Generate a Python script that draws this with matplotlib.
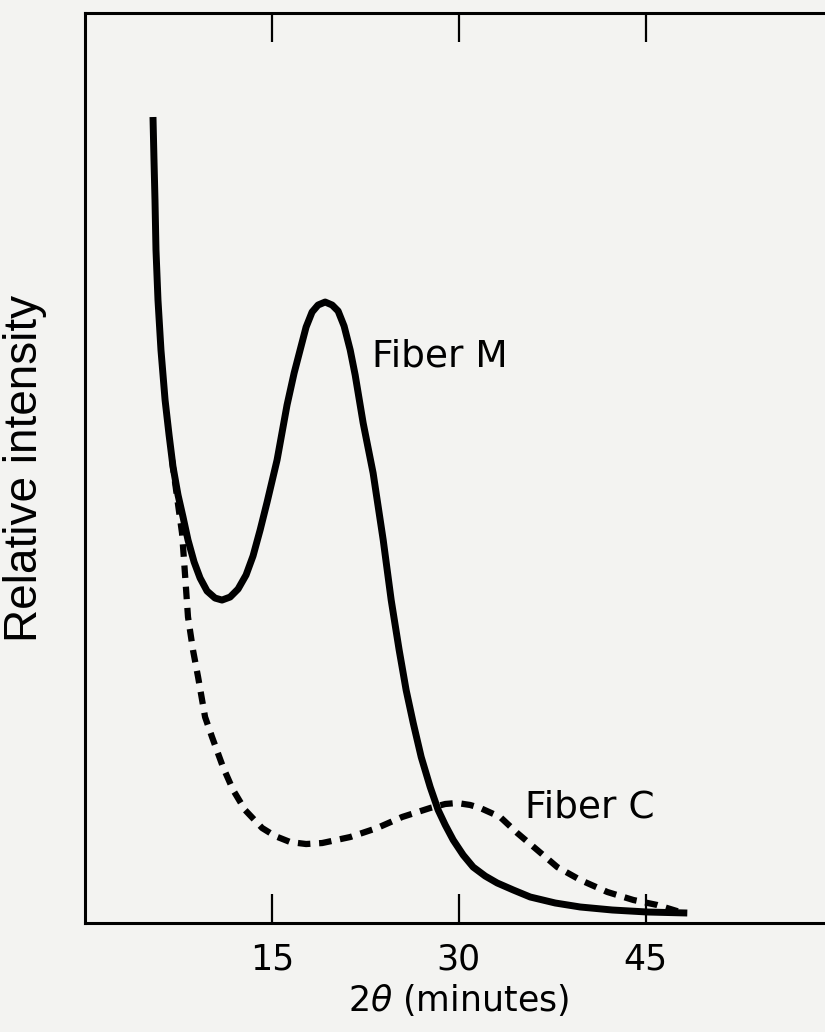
import matplotlib.pyplot as plt

# values (x = 2theta in minutes, y = relative intensity, 0-100)
fiber_m_x = [5.46, 5.54, 5.62, 5.70, 5.86, 6.10, 6.43, 6.75, 7.07, 7.47, 7.87,
             8.27, 8.76, 9.24, 9.80, 10.44, 11.00, 11.65, 12.29, 12.93, 13.49,
             14.06, 14.62, 15.42, 16.22, 16.79, 17.27, 17.75, 18.23, 18.71,
             19.28, 19.84, 20.32, 20.80, 21.29, 21.69, 22.33, 23.13, 23.94,
             24.58, 25.22, 25.78, 26.35, 26.99, 27.71, 28.35, 28.92, 29.56,
             30.36, 31.16, 32.13, 33.09, 34.38, 35.74, 37.75, 39.76, 42.33,
             45.14, 48.35]
fiber_m_y = [88.57, 83.85, 79.45, 73.96, 68.46, 62.97, 57.47, 53.63, 50.11,
             47.03, 44.62, 42.09, 39.67, 37.91, 36.48, 35.71, 35.49, 35.82,
             36.70, 38.24, 40.33, 43.19, 46.26, 50.88, 56.92, 60.44, 62.97,
             65.49, 67.14, 67.91, 68.24, 67.91, 67.25, 65.60, 62.97, 60.22,
             54.95, 49.45, 42.09, 35.49, 30.00, 25.60, 21.98, 18.24, 14.95,
             12.42, 10.77, 9.12, 7.47, 6.15, 5.16, 4.40, 3.63, 2.86, 2.20,
             1.76, 1.43, 1.21, 1.10]

fiber_c_x = [6.99, 7.39, 7.79, 7.95, 8.27, 8.67, 9.08, 9.64, 10.20, 11.08, 11.89,
             12.85, 14.22, 15.26, 16.47, 17.75, 19.04, 21.29, 23.45, 25.46,
             27.71, 28.92, 29.88, 30.92, 31.73, 33.33, 34.70, 36.31, 37.91,
             39.76, 41.93, 44.02, 45.94, 48.03]
fiber_c_y = [50.88, 46.81, 42.86, 39.89, 33.63, 30.00, 27.03, 22.64, 20.44,
             17.14, 14.62, 12.42, 10.44, 9.56, 8.90, 8.68, 8.79, 9.45, 10.44,
             11.65, 12.64, 13.08, 13.19, 12.97, 12.64, 11.65, 9.89, 8.02, 6.15,
             4.73, 3.41, 2.53, 1.98, 1.10]

xticks = [15, 30, 45]
xtick_labels = ['15', '30', '45']

bg = '#f3f3f1'
fig = plt.figure(figsize=(8.25, 10.32), dpi=100, facecolor=bg)
ax = fig.add_axes([0.103, 0.1056, 0.906, 0.8818], facecolor=bg)

ax.plot(fiber_m_x, fiber_m_y, color='black', lw=5, solid_capstyle='butt',
        solid_joinstyle='round')
ax.plot(fiber_c_x, fiber_c_y, color='black', lw=4.5, linestyle=(0, (2.0, 1.4)),
        dash_capstyle='butt')

ax.text(23.05, 62.2, 'Fiber M', fontsize=27, va='center', ha='left')
ax.text(35.3, 12.7, 'Fiber C', fontsize=27, va='center', ha='left')

ax.set_xlim(0, 60)
ax.set_ylim(0, 100)
ax.set_xticks(xticks)
ax.set_xticklabels(xtick_labels, fontsize=25)
ax.set_yticks([])
ax.tick_params(axis='x', direction='in', length=21, width=1.6, pad=14,
               top=True, bottom=True)

for side in ['left', 'top', 'bottom']:
    ax.spines[side].set_linewidth(2.2)
ax.spines['right'].set_visible(False)

ax.set_xlabel(r'2$\theta$ (minutes)', fontsize=25, labelpad=4)
ax.set_ylabel('Relative intensity', fontsize=33, family='Liberation Sans')
ax.yaxis.set_label_coords(-0.051, 0.5)

plt.savefig('out.png', dpi=100, facecolor=bg)
plt.close()
